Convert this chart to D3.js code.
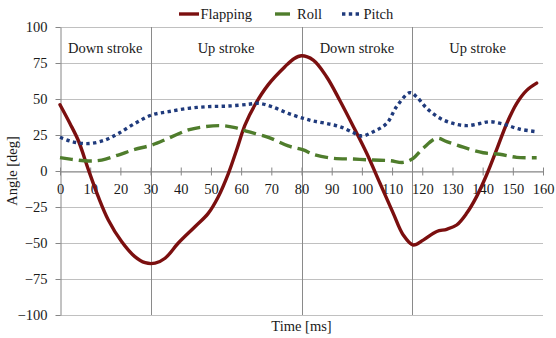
<!DOCTYPE html>
<html>
<head>
<meta charset="utf-8">
<script src="https://cdn.jsdelivr.net/npm/d3@7"></script>
<style>
  html, body { margin: 0; padding: 0; background: #ffffff; }
  svg { display: block; }
  svg text { font-family: "Liberation Serif", "Times New Roman", serif; }
</style>
</head>
<body>
<div id="chart"></div>
<script>
// [time ms, angle deg]
const flapping = [
  [0, 46], [3.3, 33], [6.1, 21], [9.4, 1], [12.7, -18], [16, -34], [20.4, -49], [24.8, -59.5],
  [28.2, -63.7], [31.5, -64], [34.8, -60.6], [39.2, -50], [44.7, -38.7], [49.1, -29.4], [52.4, -18],
  [55.8, -1.6], [58.5, 14.6], [61.3, 32], [64.6, 46], [69, 60], [74.5, 72.4], [77.5, 78], [80, 80],
  [83.9, 77], [88.3, 65.5], [92.7, 49], [97.2, 30.8], [101.6, 12.3], [106, -8.5], [110.4, -29.4],
  [113.7, -44.4], [117, -51.4], [120.3, -48], [124.8, -42], [128.1, -40.5], [131.4, -37.5],
  [134.7, -29.4], [138, -17.8], [141.3, -2.8], [144.6, 14.6], [148, 33], [151.3, 47], [154.6, 56], [157.9, 61]
];
const roll = [
  [0, 9.3], [3.9, 8.1], [9.4, 6.9], [13.8, 7.6], [19.3, 11.1], [24.8, 15], [30.4, 18], [35.9, 22.7],
  [42.5, 28.5], [48, 30.8], [53.5, 31.5], [58, 30.1], [62.4, 27.3], [69, 23.4], [75.6, 17.4], [80.6, 14.6],
  [83.9, 11.6], [90.5, 8.8], [97.2, 8.3], [103.8, 7.6], [109.3, 7.2], [113.7, 6], [117, 8.8], [120.3, 15.8],
  [124.8, 22.7], [128.1, 20.4], [133.6, 16.5], [140.2, 12.7], [145.7, 11.6], [151.3, 9.5], [157.9, 9.2]
];
const pitch = [
  [0, 23.4], [3.3, 20.8], [7.2, 19.2], [10.5, 19.2], [14.9, 21.5], [19.3, 26], [24.8, 33], [30.4, 38.9],
  [35.9, 41.2], [42.5, 43.5], [49.1, 44.7], [55.8, 45.1], [62.4, 46.3], [65.7, 47], [70.1, 44.7], [75.6, 40],
  [80.6, 36.6], [83.9, 34.7], [88.3, 33], [92.7, 30.8], [97.2, 26.6], [99.9, 24.3], [103.8, 27.3], [108.2, 33],
  [111.5, 44.7], [115.9, 54.4], [118.1, 51.6], [121.5, 43.5], [125.9, 36.6], [130.3, 33], [134.7, 31.5],
  [139.1, 33], [142.4, 34.2], [146.8, 32.6], [152.4, 29], [157.9, 27.3]
];
const strokeBounds = [0, 30, 80, 116.7, 160];
const strokeLabels = ["Down stroke", "Up stroke", "Down stroke", "Up stroke"];
const xTicks = d3.range(0, 161, 10);
const yTicks = [-100, -75, -50, -25, 0, 25, 50, 75, 100];

const width = 556;
const height = 338;
const fontSize = 14.5;
const textColor = "#1a1a1a";
const axisColor = "#868686";
const seriesStyle = [
  { name: "Flapping", data: flapping, color: "#7b0f0f", dash: null },
  { name: "Roll", data: roll, color: "#4f7d2c", dash: "13 6" },
  { name: "Pitch", data: pitch, color: "#1f3a7c", dash: "3.4 3.4" }
];

const x = d3.scaleLinear().domain([0, 160]).range([60, 543]);
const y = d3.scaleLinear().domain([-100, 100]).range([315, 27]);

const svg = d3.select("#chart").append("svg").attr("width", width).attr("height", height);

// horizontal gridlines
svg.append("g")
  .selectAll("line")
  .data(yTicks)
  .join("line")
  .attr("x1", x(0))
  .attr("x2", x(160))
  .attr("y1", (d) => Math.round(y(d)) + 0.5)
  .attr("y2", (d) => Math.round(y(d)) + 0.5)
  .attr("stroke", "#c0c0c0")
  .attr("stroke-width", 1);

// stroke phase separators
svg.append("g")
  .selectAll("line")
  .data(strokeBounds.slice(1, -1))
  .join("line")
  .attr("x1", (d) => Math.round(x(d)) + 0.5)
  .attr("x2", (d) => Math.round(x(d)) + 0.5)
  .attr("y1", y(100))
  .attr("y2", y(-100))
  .attr("stroke", "#8a8a8a")
  .attr("stroke-width", 1);

svg.append("g")
  .selectAll("text")
  .data(strokeLabels)
  .join("text")
  .attr("x", (d, i) => (x(strokeBounds[i]) + x(strokeBounds[i + 1])) / 2)
  .attr("y", 52.5)
  .attr("text-anchor", "middle")
  .attr("font-size", fontSize)
  .attr("fill", textColor)
  .text((d) => d);

const styleAxis = (g) => {
  g.attr("font-family", null).attr("font-size", null);
  g.select(".domain").attr("stroke", axisColor);
  g.selectAll(".tick line").attr("stroke", axisColor);
  g.selectAll("text").attr("font-size", fontSize).attr("fill", textColor);
};

// y axis
svg.append("g")
  .attr("transform", `translate(${x(0) + 0.5},0)`)
  .call(d3.axisLeft(y).tickValues(yTicks).tickSize(5).tickPadding(8).tickSizeOuter(0))
  .call(styleAxis);

// x axis through zero, ticks crossing the line
svg.append("g")
  .attr("transform", `translate(0,${Math.round(y(0)) + 0.5})`)
  .call(d3.axisBottom(x).tickValues(xTicks).tickSize(4).tickPadding(8).tickSizeOuter(0))
  .call(styleAxis)
  .call((g) => g.selectAll(".tick line").attr("y1", -4));

const line = d3.line()
  .x((d) => x(d[0]))
  .y((d) => y(d[1]))
  .curve(d3.curveCatmullRom.alpha(0.5));

seriesStyle.forEach((s) => {
  svg.append("path")
    .datum(s.data)
    .attr("fill", "none")
    .attr("stroke", s.color)
    .attr("stroke-width", 3.4)
    .attr("stroke-linejoin", "round")
    .attr("stroke-linecap", s.dash ? "butt" : "round")
    .attr("stroke-dasharray", s.dash)
    .attr("d", line);
});

// legend
const legendItems = [
  { x0: 179, x1: 199, tx: 200.5, dash: null },
  { x0: 275, x1: 290, tx: 297, dash: null },
  { x0: 342, x1: 362, tx: 363.5, dash: "3.4 3.4" }
];
const legend = svg.append("g");
seriesStyle.forEach((s, i) => {
  const item = legendItems[i];
  legend.append("line")
    .attr("x1", item.x0)
    .attr("x2", item.x1)
    .attr("y1", 14)
    .attr("y2", 14)
    .attr("stroke", s.color)
    .attr("stroke-width", 3.4)
    .attr("stroke-dasharray", item.dash);
  legend.append("text")
    .attr("x", item.tx)
    .attr("y", 18.5)
    .attr("font-size", fontSize)
    .attr("fill", textColor)
    .text(s.name);
});

svg.append("text")
  .attr("transform", `translate(17,${y(0)}) rotate(-90)`)
  .attr("text-anchor", "middle")
  .attr("font-size", fontSize)
  .attr("fill", textColor)
  .text("Angle [deg]");

svg.append("text")
  .attr("x", (x(0) + x(160)) / 2)
  .attr("y", 331)
  .attr("text-anchor", "middle")
  .attr("font-size", fontSize)
  .attr("fill", textColor)
  .text("Time [ms]");
</script>
</body>
</html>
